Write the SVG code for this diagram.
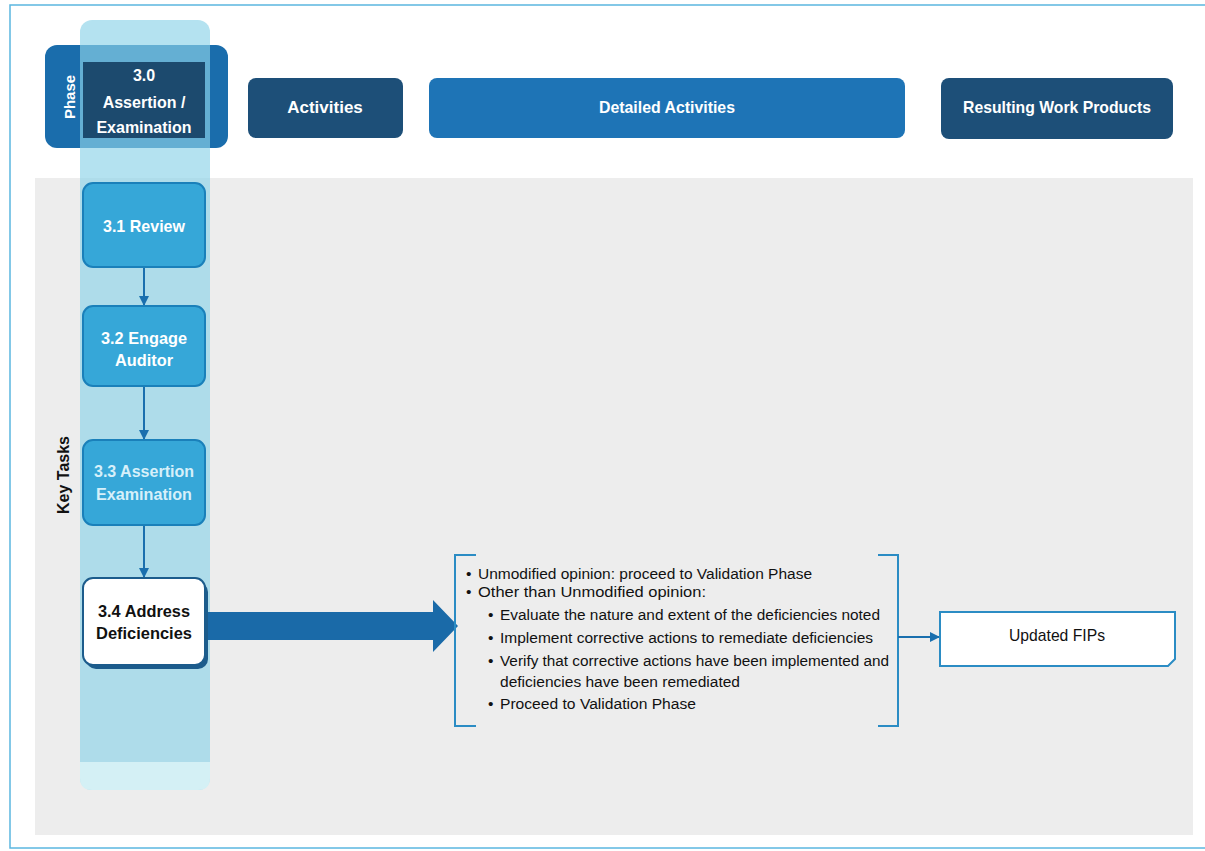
<svg xmlns="http://www.w3.org/2000/svg" width="1205" height="851" viewBox="0 0 1205 851">
  <defs>
    <style>
      .hdr { font-family: "Liberation Sans", Arial, sans-serif; font-weight: bold; fill: #ffffff; text-anchor: middle; }
      .task { font-family: "Liberation Sans", Arial, sans-serif; font-weight: bold; font-size: 17px; fill: #ffffff; text-anchor: middle; }
      .taskbox { fill: #36a7d8; stroke: #1a80ba; stroke-width: 2; }
      .body { font-family: "Liberation Sans", Arial, sans-serif; font-size: 15.5px; fill: #111111; }
      .flow { stroke: #1a6fae; stroke-width: 2; fill: none; }
      .bracket { stroke: #2b8cc4; stroke-width: 2; fill: none; }
    </style>
    <marker id="tip" viewBox="0 0 10 10" refX="9" refY="5" markerWidth="5" markerHeight="5" orient="auto">
      <path d="M0,0 L10,5 L0,10 z" fill="#1a6fae"/>
    </marker>
  </defs>

  <!-- page -->
  <rect x="0" y="0" width="1205" height="851" fill="#ffffff"/>
  <rect x="10" y="5" width="1200" height="843" fill="none" stroke="#5bb7e0" stroke-width="1.5"/>

  <!-- grey working area -->
  <rect x="35" y="178" width="1158" height="657" fill="#ededed"/>

  <!-- phase header -->
  <g id="phase">
    <rect x="45" y="45" width="183" height="103" rx="12" fill="#1a6dac"/>
    <text class="hdr" font-size="15" transform="translate(71,97) rotate(-90)" dominant-baseline="middle">Phase</text>
  </g>

  <!-- key tasks column band -->
  <rect x="80" y="20" width="130" height="770" rx="12" fill="#8cd2e8" fill-opacity="0.65"/>
  <path d="M80,762 L210,762 L210,778 Q210,790 198,790 L92,790 Q80,790 80,778 z" fill="#d4f0f5"/>

  <g id="phase-title">
    <rect x="83" y="62" width="122" height="76" fill="#1c4a6e"/>
    <text class="hdr" font-size="16" x="144" y="81">3.0</text>
    <text class="hdr" font-size="16" x="144" y="108">Assertion /</text>
    <text class="hdr" font-size="16" x="144" y="133">Examination</text>
  </g>

  <g id="hdr-activities">
    <rect x="248" y="78" width="155" height="60" rx="8" fill="#1d4f78"/>
    <text class="hdr" font-size="17" x="325" y="113">Activities</text>
  </g>
  <g id="hdr-detailed">
    <rect x="429" y="78" width="476" height="60" rx="8" fill="#1e74b6"/>
    <text class="hdr" font-size="17" x="667" y="113" textLength="136" lengthAdjust="spacingAndGlyphs">Detailed Activities</text>
  </g>
  <g id="hdr-products">
    <rect x="941" y="78" width="232" height="61" rx="8" fill="#1d4f78"/>
    <text class="hdr" font-size="17" x="1057" y="113" textLength="188" lengthAdjust="spacingAndGlyphs">Resulting Work Products</text>
  </g>

  <g id="key-tasks-label">
    <text font-family="Liberation Sans, Arial, sans-serif" font-weight="bold" font-size="16" fill="#111111" text-anchor="middle" dominant-baseline="middle" transform="translate(65,475) rotate(-90)">Key Tasks</text>
  </g>

  <!-- connectors -->
  <g id="connectors">
    <line class="flow" x1="144" y1="267" x2="144" y2="305" marker-end="url(#tip)"/>
    <line class="flow" x1="144" y1="386" x2="144" y2="439" marker-end="url(#tip)"/>
    <line class="flow" x1="144" y1="525" x2="144" y2="577" marker-end="url(#tip)"/>
    <path d="M205,612 L433,612 L433,600 L458,626 L433,652 L433,640 L205,640 z" fill="#1a6aa8"/>
    <path class="bracket" d="M476,555 L455,555 L455,726 L476,726"/>
    <path class="bracket" d="M878,555 L898,555 L898,726 L878,726"/>
    <line class="flow" x1="898" y1="637" x2="939" y2="637" stroke="#2b8cc4" marker-end="url(#tip)"/>
  </g>

  <!-- key tasks -->
  <g id="task-3-1">
    <rect class="taskbox" x="83" y="183" width="122" height="84" rx="10"/>
    <text class="task" x="144" y="232" textLength="82" lengthAdjust="spacingAndGlyphs">3.1 Review</text>
  </g>
  <g id="task-3-2">
    <rect class="taskbox" x="83" y="306" width="122" height="80" rx="10"/>
    <text class="task" x="144" y="344" textLength="86" lengthAdjust="spacingAndGlyphs">3.2 Engage</text>
    <text class="task" x="144" y="366" textLength="58" lengthAdjust="spacingAndGlyphs">Auditor</text>
  </g>
  <g id="task-3-3">
    <rect class="taskbox" x="83" y="440" width="122" height="85" rx="10"/>
    <text class="task" x="144" y="477" style="fill:#d6f0fa" textLength="100" lengthAdjust="spacingAndGlyphs">3.3 Assertion</text>
    <text class="task" x="144" y="500" style="fill:#d6f0fa" textLength="96" lengthAdjust="spacingAndGlyphs">Examination</text>
  </g>
  <g id="task-3-4">
    <rect x="86" y="582" width="122" height="87" rx="10" fill="#1c5c8c"/>
    <rect x="83" y="578" width="122" height="87" rx="10" fill="#ffffff" stroke="#1c5c8c" stroke-width="2"/>
    <text class="task" x="144" y="617" style="fill:#111111" textLength="92" lengthAdjust="spacingAndGlyphs">3.4 Address</text>
    <text class="task" x="144" y="639" style="fill:#111111" textLength="96" lengthAdjust="spacingAndGlyphs">Deficiencies</text>
  </g>

  <!-- detailed activities -->
  <g id="detail-list">
    <text class="body" x="466" y="579">•</text>
    <text class="body" x="478" y="579" textLength="334" lengthAdjust="spacingAndGlyphs">Unmodified opinion: proceed to Validation Phase</text>
    <text class="body" x="466" y="597">•</text>
    <text class="body" x="478" y="597" textLength="228" lengthAdjust="spacingAndGlyphs">Other than Unmodified opinion:</text>
    <text class="body" x="488" y="620">•</text>
    <text class="body" x="500" y="620" textLength="380" lengthAdjust="spacingAndGlyphs">Evaluate the nature and extent of the deficiencies noted</text>
    <text class="body" x="488" y="643">•</text>
    <text class="body" x="500" y="643" textLength="373" lengthAdjust="spacingAndGlyphs">Implement corrective actions to remediate deficiencies</text>
    <text class="body" x="488" y="666">•</text>
    <text class="body" x="500" y="666" textLength="389" lengthAdjust="spacingAndGlyphs">Verify that corrective actions have been implemented and</text>
    <text class="body" x="500" y="687" textLength="240" lengthAdjust="spacingAndGlyphs">deficiencies have been remediated</text>
    <text class="body" x="488" y="709">•</text>
    <text class="body" x="500" y="709" textLength="196" lengthAdjust="spacingAndGlyphs">Proceed to Validation Phase</text>
  </g>

  <!-- work product -->
  <g id="product-fips">
    <path d="M940,612 L1175,612 L1175,659 L1168,666 L940,666 z" fill="#ffffff" stroke="#2b8cc4" stroke-width="2"/>
    <text x="1057" y="641" font-family="Liberation Sans, Arial, sans-serif" font-size="17" fill="#111111" text-anchor="middle" textLength="96" lengthAdjust="spacingAndGlyphs">Updated FIPs</text>
  </g>
</svg>
